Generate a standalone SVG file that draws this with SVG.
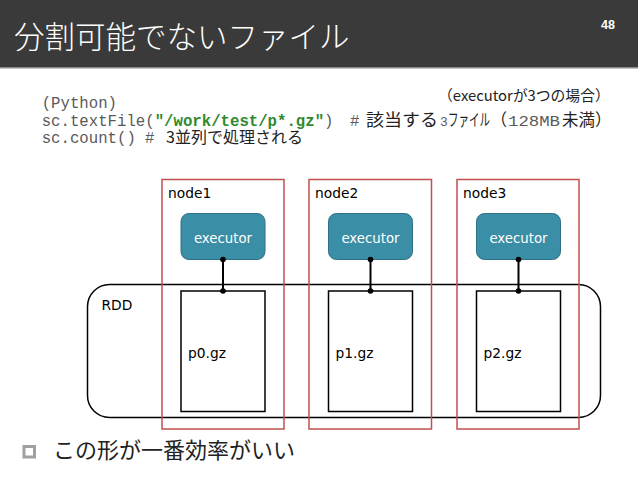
<svg xmlns="http://www.w3.org/2000/svg" width="638" height="479" viewBox="0 0 638 479">
<style>
.node{fill:none;stroke:#c0504d;stroke-width:1.5}
.exec{fill:#3a8ea6;stroke:#2e7085;stroke-width:1}
.etext{font-family:"DejaVu Sans",sans-serif;font-size:13.3px;fill:#ffffff;text-anchor:middle}
.label{font-family:"DejaVu Sans",sans-serif;font-size:13.8px;fill:#000}
.file{fill:#fff;stroke:#000;stroke-width:1.5}
.conn{stroke:#000;stroke-width:2;fill:none}
.dot{fill:#000}
.mono{font-family:"Liberation Mono",monospace;font-size:15.7px;fill:#5a5a5a}
.jp{font-family:"Noto Sans CJK JP","DejaVu Sans",sans-serif;fill:#222}
</style>
<rect x="0" y="0" width="638" height="67" fill="#3a3a3a"/>
<rect x="0" y="67" width="638" height="1.5" fill="#8a8a8a"/>
<text x="14" y="48" font-family="Noto Sans CJK JP,sans-serif" font-size="30.5" fill="#ffffff" font-weight="300">分割可能でないファイル</text>
<text x="601" y="29" font-family="Liberation Sans,sans-serif" font-size="12.5" font-weight="bold" fill="#ffffff">48</text>

<text x="438" y="101" class="jp" font-size="14.8">（executorが3つの場合）</text>
<text x="41.7" y="108" class="mono">(Python)</text>
<text x="41.7" y="125.5" class="mono">sc.textFile(<tspan fill="#2f8a2f" font-weight="bold">"/work/test/p*.gz"</tspan>)<tspan x="350">#</tspan><tspan x="366" class="jp" font-size="16.5" textLength="72" lengthAdjust="spacingAndGlyphs">該当する</tspan><tspan x="440" font-size="13">3</tspan><tspan x="448" class="jp" font-size="16.5" textLength="42" lengthAdjust="spacingAndGlyphs">ファイル</tspan><tspan x="491" class="jp" font-size="16.5" textLength="16" lengthAdjust="spacingAndGlyphs">（</tspan><tspan x="508" font-size="14" textLength="52" lengthAdjust="spacingAndGlyphs">128MB</tspan><tspan x="562" class="jp" font-size="16.5">未満）</tspan></text>
<text x="41.7" y="143" class="mono">sc.count()<tspan x="145">#</tspan><tspan x="166" class="jp" font-size="16">3並列で処理される</tspan></text>

<g id="rdd">
<rect x="87.5" y="284.5" width="513" height="133" rx="22" ry="22" fill="none" stroke="#000" stroke-width="1.5"/>
<text x="101.5" y="309.5" class="label">RDD</text>
</g>

<g id="node1">
<rect x="162" y="179.5" width="122" height="249.5" class="node"/>
<text x="168" y="198" class="label">node1</text>
</g>
<g id="node2">
<rect x="309" y="179.5" width="122.5" height="249.5" class="node"/>
<text x="315" y="198" class="label">node2</text>
</g>
<g id="node3">
<rect x="457" y="179.5" width="122" height="249.5" class="node"/>
<text x="463" y="198" class="label">node3</text>
</g>

<g id="executor1">
<rect x="181" y="213.5" width="84" height="46" rx="8" class="exec"/>
<text x="223" y="242.5" class="etext">executor</text>
</g>
<g id="executor2">
<rect x="328.5" y="213.5" width="84" height="46" rx="8" class="exec"/>
<text x="370.5" y="242.5" class="etext">executor</text>
</g>
<g id="executor3">
<rect x="476.5" y="213.5" width="84" height="46" rx="8" class="exec"/>
<text x="518.5" y="242.5" class="etext">executor</text>
</g>

<g id="p0">
<rect x="181" y="291" width="84" height="120.5" class="file"/>
<text x="188" y="358" class="label">p0.gz</text>
</g>
<g id="p1">
<rect x="328.5" y="291" width="84" height="120.5" class="file"/>
<text x="335.5" y="358" class="label">p1.gz</text>
</g>
<g id="p2">
<rect x="476.5" y="291" width="84" height="120.5" class="file"/>
<text x="483.5" y="358" class="label">p2.gz</text>
</g>

<g id="connectors">
<line x1="223" y1="259.5" x2="223" y2="291" class="conn"/>
<circle cx="223" cy="259.5" r="2.8" class="dot"/>
<circle cx="223" cy="291" r="2.8" class="dot"/>
<line x1="370.5" y1="259.5" x2="370.5" y2="291" class="conn"/>
<circle cx="370.5" cy="259.5" r="2.8" class="dot"/>
<circle cx="370.5" cy="291" r="2.8" class="dot"/>
<line x1="518.5" y1="259.5" x2="518.5" y2="291" class="conn"/>
<circle cx="518.5" cy="259.5" r="2.8" class="dot"/>
<circle cx="518.5" cy="291" r="2.8" class="dot"/>
</g>

<rect x="24" y="446.5" width="10.5" height="10.5" fill="none" stroke="#a0a0a0" stroke-width="3"/>
<text x="53" y="458" class="jp" font-size="22" fill="#222">この形が一番効率がいい</text>
</svg>
